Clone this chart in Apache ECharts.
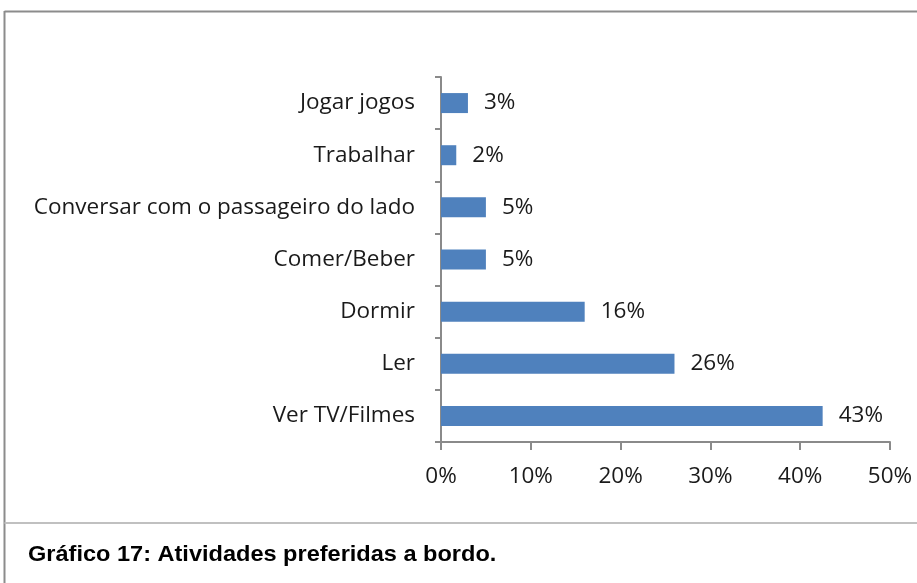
<!DOCTYPE html>
<html>
<head>
    <meta charset="utf-8"/>
    <title>Gráfico 17</title>
    <script src="https://cdn.jsdelivr.net/npm/echarts@6/dist/echarts.min.js"></script>
    <style>
        html, body { margin: 0; padding: 0; background: #fff; }
    </style>
</head>
<body>
<div id="main" style="width: 917px;height:583px;"></div>
<script type="text/javascript">
    // dados (de baixo para cima)
    var categorias = ['Ver TV/Filmes', 'Ler', 'Dormir', 'Comer/Beber', 'Conversar com o passageiro do lado', 'Trabalhar', 'Jogar jogos'];
    var valores = [42.5, 26, 16, 5, 5, 1.7, 3];
    var ticksX = [0, 10, 20, 30, 40, 50];
    var legenda = 'Gráfico 17: Atividades preferidas a bordo.';

    var fonte = '"Open Sans", "Noto Sans", sans-serif';
    var myChart = echarts.init(document.getElementById('main'));

    var option = {
        backgroundColor: '#fff',
        animation: false,
        grid: {
            left: 441,
            right: 27,
            top: 77,
            bottom: 141
        },
        xAxis: {
            type: 'value',
            min: ticksX[0],
            max: ticksX[ticksX.length - 1],
            interval: 10,
            axisLine: { show: true, lineStyle: { color: '#8a8a8a', width: 2 } },
            axisTick: { show: true, length: 8, lineStyle: { color: '#8a8a8a', width: 2 } },
            splitLine: { show: false },
            axisLabel: {
                margin: 23,
                color: '#1a1a1a',
                fontFamily: fonte,
                fontSize: 22.5,
                formatter: function (v) { return v + '%'; }
            }
        },
        yAxis: {
            type: 'category',
            data: categorias,
            axisLine: { show: true, lineStyle: { color: '#8a8a8a', width: 2 } },
            axisTick: { show: true, length: 6, lineStyle: { color: '#8a8a8a', width: 2 } },
            axisLabel: {
                margin: 26,
                color: '#1a1a1a',
                fontFamily: fonte,
                fontSize: 22.5
            }
        },
        series: [{
            type: 'bar',
            data: valores,
            barWidth: 20,
            itemStyle: { color: '#4f81bd' },
            label: {
                show: true,
                position: 'right',
                distance: 16,
                color: '#1a1a1a',
                fontFamily: fonte,
                fontSize: 22.5,
                formatter: function (p) { return Math.round(p.value) + '%'; }
            }
        }],
        graphic: [
            // moldura do gráfico
            { type: 'line', shape: { x1: 4.5, y1: 11.5, x2: 917, y2: 11.5 }, style: { stroke: '#8c8c8c', lineWidth: 2 } },
            { type: 'line', shape: { x1: 4.5, y1: 11, x2: 4.5, y2: 583 }, style: { stroke: '#8c8c8c', lineWidth: 2 } },
            { type: 'line', shape: { x1: 4.5, y1: 523, x2: 917, y2: 523 }, style: { stroke: '#c0c0c0', lineWidth: 2 } },
            {
                type: 'text',
                x: 28,
                y: 544,
                scaleX: 1.07,
                style: {
                    text: legenda,
                    fill: '#000',
                    font: 'bold 22px "Liberation Sans Narrow", "Liberation Sans", Arial, sans-serif'
                }
            }
        ]
    };

    myChart.setOption(option);
</script>
</body>
</html>
